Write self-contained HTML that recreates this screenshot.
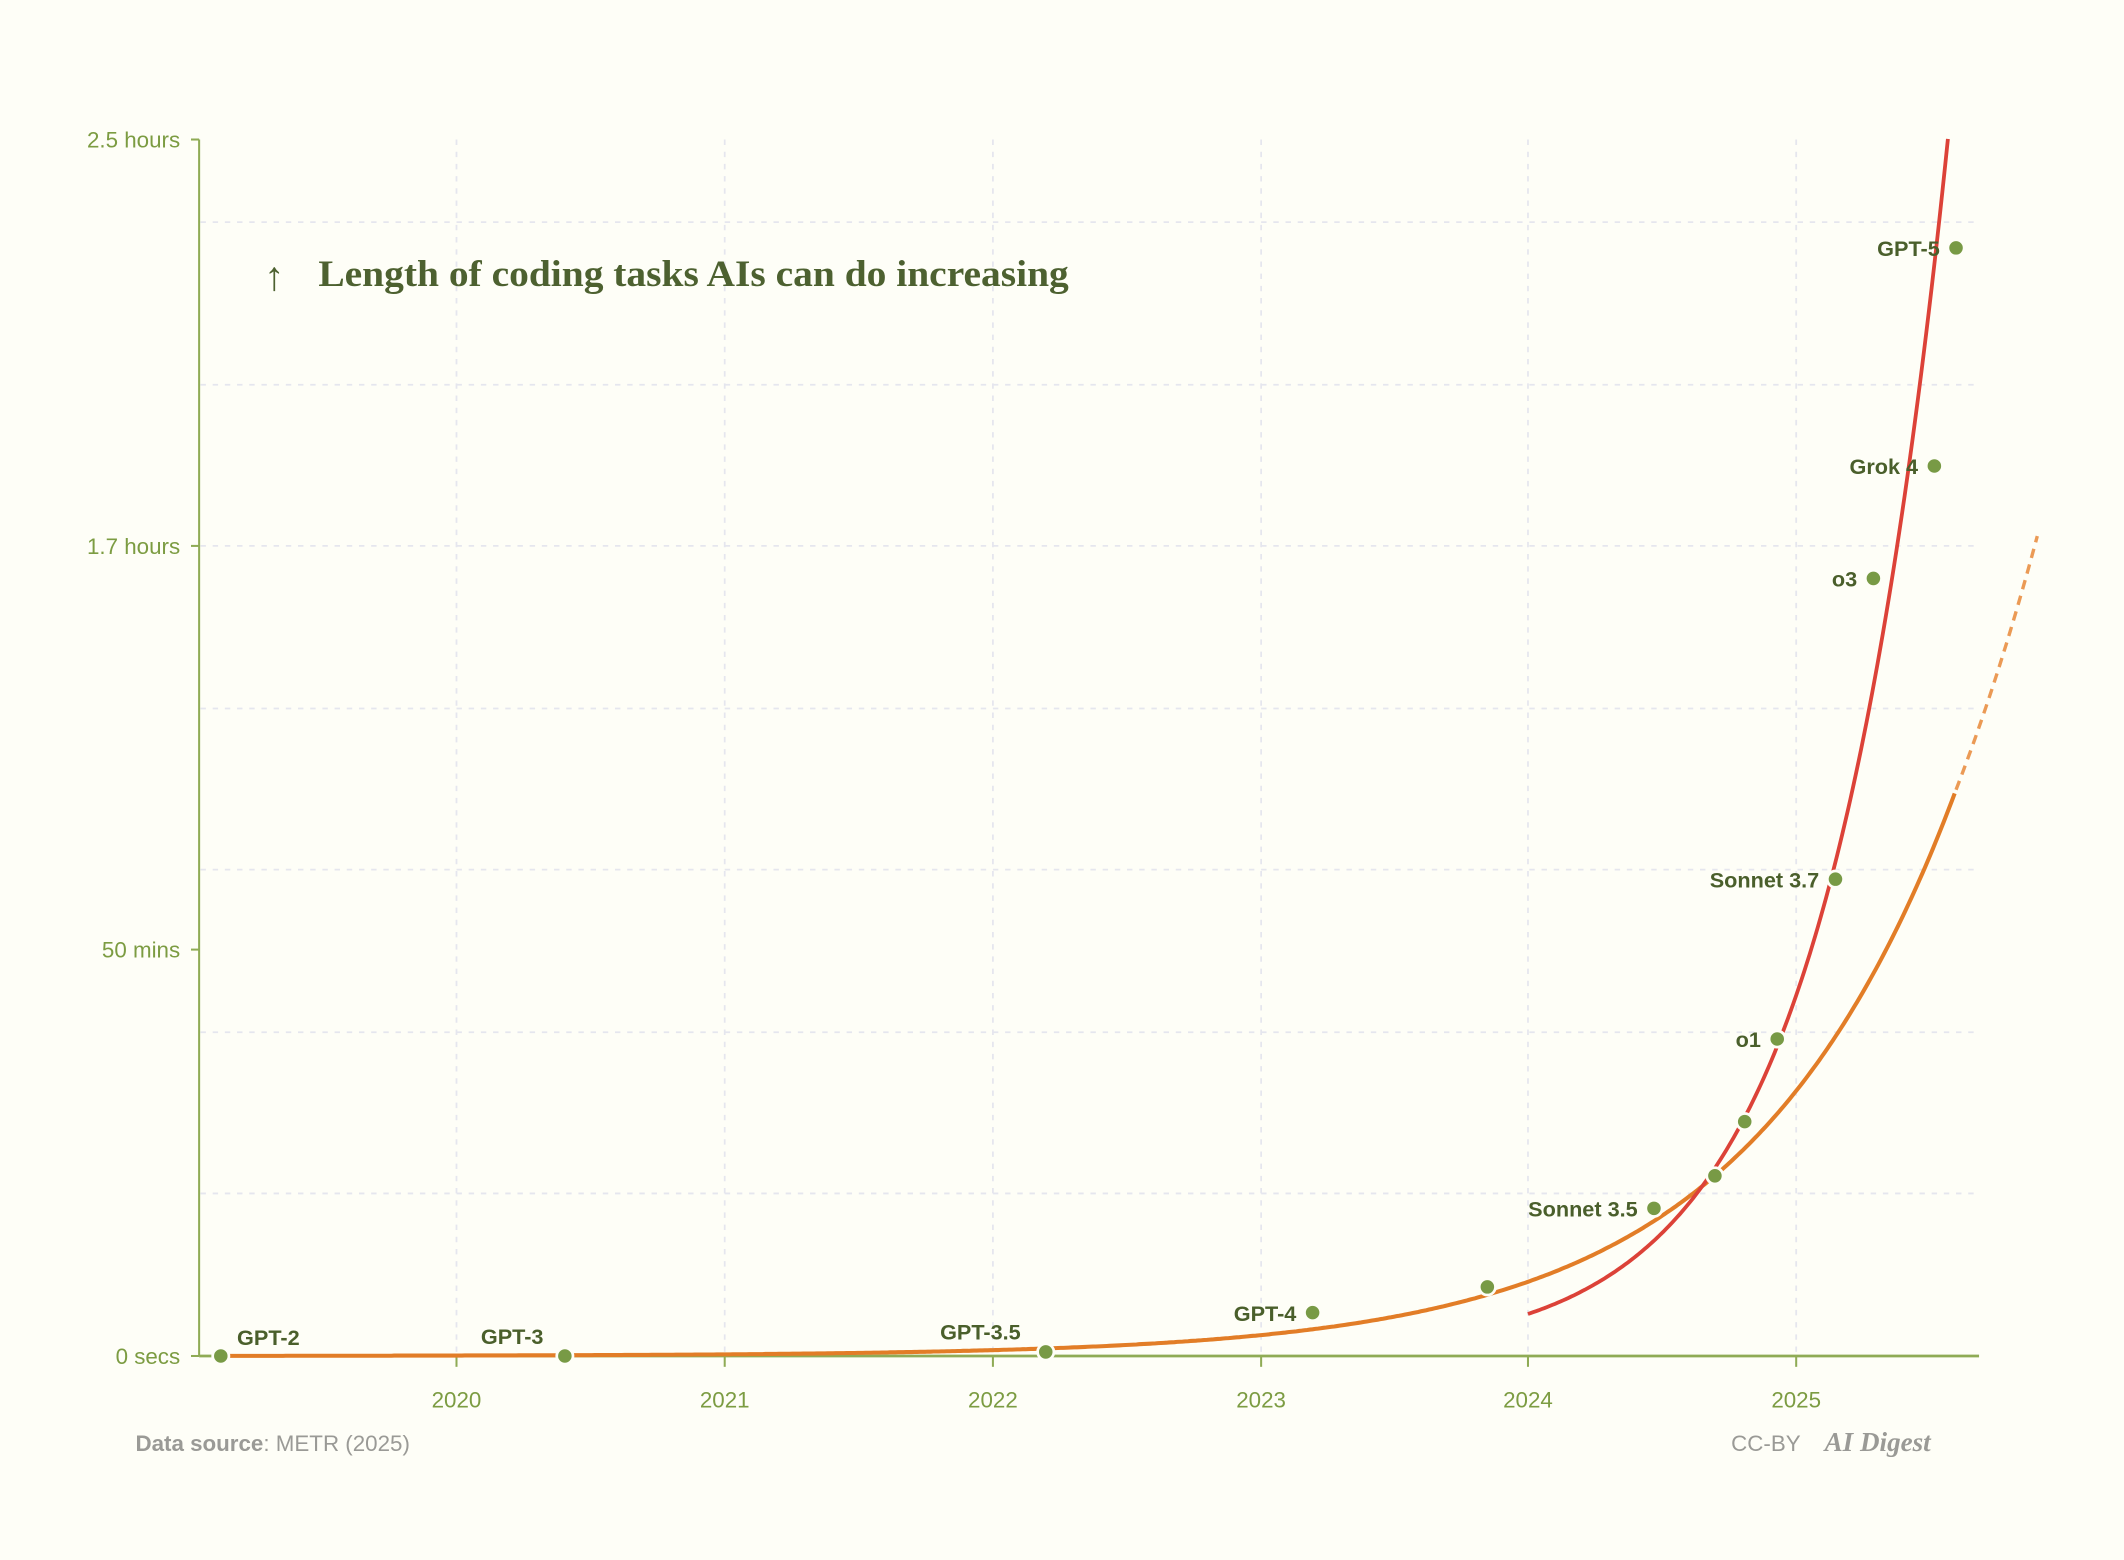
<!DOCTYPE html>
<html><head><meta charset="utf-8"><style>
html,body{margin:0;padding:0;background:#fefef7;}
svg{display:block}
.tk{font-family:"Liberation Sans",sans-serif;font-size:16.5px;fill:#7c9c42}
.lb{font-family:"Liberation Sans",sans-serif;font-size:16px;font-weight:bold;fill:#4a5f2b}
.ft{font-family:"Liberation Sans",sans-serif;font-size:16.5px;fill:#9a9a96}
</style></head><body>
<svg width="2124" height="1560" viewBox="0 0 1568 1151.6" preserveAspectRatio="none" xmlns="http://www.w3.org/2000/svg">
<rect width="1568" height="1152" fill="#fefef7"/>
<g stroke="#e5e6ee" stroke-width="1.3" stroke-dasharray="4,5">
<line x1="337" y1="103" x2="337" y2="1001"/><line x1="535" y1="103" x2="535" y2="1001"/>
<line x1="733" y1="103" x2="733" y2="1001"/><line x1="931" y1="103" x2="931" y2="1001"/>
<line x1="1128" y1="103" x2="1128" y2="1001"/><line x1="1326" y1="103" x2="1326" y2="1001"/>
<line x1="148" y1="164" x2="1461" y2="164"/><line x1="148" y1="284" x2="1461" y2="284"/>
<line x1="148" y1="403" x2="1461" y2="403"/><line x1="148" y1="523" x2="1461" y2="523"/>
<line x1="148" y1="642" x2="1461" y2="642"/><line x1="148" y1="762" x2="1461" y2="762"/>
<line x1="148" y1="881" x2="1461" y2="881"/>
</g>
<g stroke="#8fab55" stroke-width="1.5">
<line x1="147" y1="103" x2="147" y2="1001"/>
<line x1="147" y1="1001" x2="1461" y2="1001" stroke-width="2"/>
<line x1="141" y1="103" x2="147" y2="103"/><line x1="141" y1="403" x2="147" y2="403"/>
<line x1="141" y1="701" x2="147" y2="701"/><line x1="141" y1="1001" x2="147" y2="1001"/>
<line x1="337" y1="1001" x2="337" y2="1009"/><line x1="535" y1="1001" x2="535" y2="1009"/>
<line x1="733" y1="1001" x2="733" y2="1009"/><line x1="931" y1="1001" x2="931" y2="1009"/>
<line x1="1128" y1="1001" x2="1128" y2="1009"/><line x1="1326" y1="1001" x2="1326" y2="1009"/>
</g>
<g class="tk" text-anchor="end">
<text x="133" y="109">2.5 hours</text><text x="133" y="409">1.7 hours</text>
<text x="133" y="707">50 mins</text><text x="133" y="1007">0 secs</text>
</g>
<g class="tk" text-anchor="middle">
<text x="337" y="1039">2020</text><text x="535" y="1039">2021</text><text x="733" y="1039">2022</text>
<text x="931" y="1039">2023</text><text x="1128" y="1039">2024</text><text x="1326" y="1039">2025</text>
</g>
<text x="195" y="214" font-family="'Liberation Serif',serif" font-size="30" fill="#4d6130">↑</text>
<text x="235" y="211" font-family="'Liberation Serif',serif" font-size="27" font-weight="bold" fill="#4d6130" textLength="554" lengthAdjust="spacingAndGlyphs">Length of coding tasks AIs can do increasing</text>
<path id="orange" fill="none" stroke="#e27d27" stroke-width="3"/>
<path id="orangeD" fill="none" stroke="#eb9a55" stroke-width="2.5" stroke-dasharray="7,5"/>
<path id="red" fill="none" stroke="#dc4238" stroke-width="2.8"/>
<g fill="#789a45" stroke="#fefef7" stroke-width="2">
<circle cx="163" cy="1001" r="6"/><circle cx="417" cy="1001" r="6"/><circle cx="772" cy="998" r="6"/>
<circle cx="969" cy="969" r="6"/><circle cx="1098" cy="950" r="6"/><circle cx="1221" cy="892" r="6"/>
<circle cx="1266" cy="868" r="6"/><circle cx="1288" cy="828" r="6"/><circle cx="1312" cy="767" r="6"/>
<circle cx="1355" cy="649" r="6"/><circle cx="1383" cy="427" r="6"/><circle cx="1428" cy="344" r="6"/>
<circle cx="1444" cy="183" r="6"/>
</g>
<g class="lb">
<text x="175" y="993">GPT-2</text><text x="355" y="992">GPT-3</text><text x="694" y="989">GPT-3.5</text>
</g>
<g class="lb" text-anchor="end">
<text x="957" y="975">GPT-4</text><text x="1209" y="898">Sonnet 3.5</text><text x="1300" y="773">o1</text>
<text x="1343" y="655">Sonnet 3.7</text><text x="1371" y="433">o3</text><text x="1416" y="350">Grok 4</text>
<text x="1432" y="189">GPT-5</text>
</g>
<text x="100" y="1071" class="ft"><tspan font-weight="bold">Data source</tspan>: METR (2025)</text>
<text x="1278" y="1071" class="ft">CC-BY</text>
<text x="1347" y="1071" font-family="'Liberation Serif',serif" font-style="italic" font-weight="bold" font-size="20" fill="#9a9a96">AI Digest</text>
<script>
function build(x0,x1,A,xa,k){var d="";for(var x=x0;x<=x1+0.01;x+=2){var y=1001-A*Math.exp(k*(x-xa));d+=(d?"L":"M")+x.toFixed(1)+","+y.toFixed(1);}return d;}
document.getElementById("orange").setAttribute("d",build(163,1444,418,1444,0.00643));
document.getElementById("orangeD").setAttribute("d",build(1444,1505,418,1444,0.00617));
document.getElementById("red").setAttribute("d",build(1128,1438,31,1128,0.01086));
</script>
</svg>
</body></html>
